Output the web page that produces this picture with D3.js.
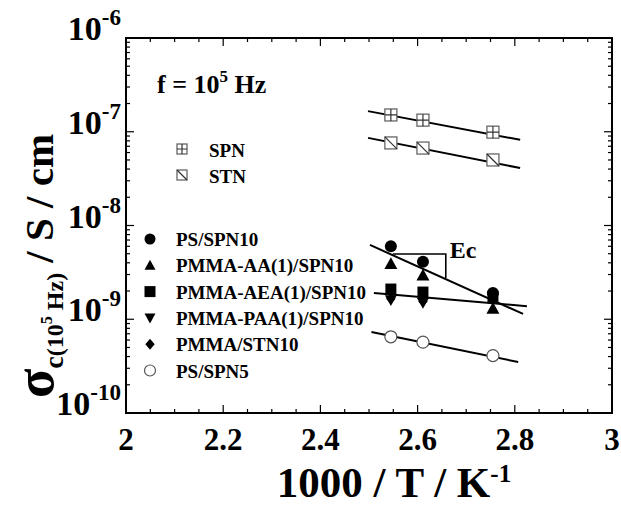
<!DOCTYPE html>
<html><head><meta charset="utf-8">
<script src="https://cdn.jsdelivr.net/npm/d3@7/dist/d3.min.js"></script>
<style>
body{margin:0;background:#fff;}
text{font-family:"Liberation Serif","Times New Roman",serif;font-weight:bold;fill:#000;}
</style></head><body>
<svg id="c" width="621" height="507"></svg>
<script>
// ---- data ----
const xT = [2.545, 2.611, 2.755];
const spn = [1.51e-7, 1.33e-7, 0.99e-7];
const stn = [7.6e-8, 6.7e-8, 5.0e-8];
const psSpn10 = [6.0e-9, 4.1e-9, 1.9e-9];
const pmmaAA = [3.9e-9, 2.95e-9, 1.3e-9];
const pmmaAEA = [2.1e-9, 1.95e-9, 1.75e-9];
const pmmaPAA = [1.6e-9, 1.5e-9, 1.65e-9];
const pmmaSTN = [1.65e-9, 1.55e-9, 1.6e-9];
const psSpn5 = [6.5e-10, 5.7e-10, 4.1e-10];
// fitted lines (endpoints)
const spnFitX = [2.498, 2.811], spnFitY = [1.66e-7, 8.2e-8];
const stnFitX = [2.498, 2.811], stnFitY = [8.6e-8, 4.1e-8];
const ecFitX = [2.502, 2.817], ecFitY = [6.2e-9, 1.14e-9];
const pmmaFitX = [2.510, 2.825], pmmaFitY = [1.9e-9, 1.38e-9];
const spn5FitX = [2.505, 2.807], spn5FitY = [7.3e-10, 3.5e-10];
const ecBracketX = [2.549, 2.658, 2.658], ecBracketY = [4.97e-9, 4.97e-9, 2.75e-9];
const xTicks = [2, 2.2, 2.4, 2.6, 2.8, 3];
const xTickLabels = ["2", "2.2", "2.4", "2.6", "2.8", "3"];
const yExps = [-6, -7, -8, -9, -10];
const legendTop = ["SPN", "STN"];
const legendBottom = ["PS/SPN10", "PMMA-AA(1)/SPN10", "PMMA-AEA(1)/SPN10", "PMMA-PAA(1)/SPN10", "PMMA/STN10", "PS/SPN5"];

// ---- layout ----
const L = 126, R = 612, T = 38, B = 413;
const svg = d3.select("#c");
const x = d3.scaleLinear().domain([2, 3]).range([L, R]);
const y = d3.scaleLog().domain([1e-10, 1e-6]).range([B, T]);

// ticks
const g = svg.append("g");
const minorX = d3.range(2, 3.0001, 0.05);
minorX.forEach(v => {
  const major = xTicks.some(t => Math.abs(t - v) < 1e-6);
  const len = major ? 8 : 4;
  g.append("line").attr("x1", x(v)).attr("x2", x(v)).attr("y1", B).attr("y2", B - len).attr("stroke", "#000").attr("stroke-width", 1.2);
  g.append("line").attr("x1", x(v)).attr("x2", x(v)).attr("y1", T).attr("y2", T + len).attr("stroke", "#000").attr("stroke-width", 1.2);
});
for (let e = -10; e < -6; e++) {
  for (let m = 1; m < 10; m++) {
    const v = m * Math.pow(10, e);
    const len = m === 1 ? 8 : 4;
    g.append("line").attr("x1", L).attr("x2", L + len).attr("y1", y(v)).attr("y2", y(v)).attr("stroke", "#000").attr("stroke-width", 1.2);
    g.append("line").attr("x1", R).attr("x2", R - len).attr("y1", y(v)).attr("y2", y(v)).attr("stroke", "#000").attr("stroke-width", 1.2);
  }
}
svg.append("rect").attr("x", L).attr("y", T).attr("width", R - L).attr("height", B - T)
  .attr("fill", "none").attr("stroke", "#000").attr("stroke-width", 2);

// tick labels
xTicks.forEach((v, i) => {
  svg.append("text").attr("x", x(v)).attr("y", 450).attr("text-anchor", "middle")
    .attr("font-size", 31).text(xTickLabels[i]);
});
yExps.forEach(e => {
  const t = svg.append("text").attr("x", 121).attr("y", y(Math.pow(10, e)) + 2).attr("text-anchor", "end").attr("font-size", 34);
  t.append("tspan").text("10");
  t.append("tspan").attr("font-size", 23).attr("dy", -15).text(String(e));
});

// axis titles
const xt = svg.append("text").attr("x", 394).attr("y", 497).attr("text-anchor", "middle").attr("font-size", 43);
xt.append("tspan").text("1000 / T / K");
xt.append("tspan").attr("font-size", 25).attr("dy", -15).text("-1");

const yt = svg.append("text").attr("transform", "translate(53,398) rotate(-90)").attr("font-size", 41);
yt.append("tspan").attr("font-size", 54).text("σ");
yt.append("tspan").attr("font-size", 28).attr("dy", 10).text("c");
yt.append("tspan").attr("font-size", 24).attr("dy", 0).text("(10");
yt.append("tspan").attr("font-size", 16).attr("dy", -11).text("5");
yt.append("tspan").attr("font-size", 24).attr("dy", 11).text(" Hz)");
yt.append("tspan").attr("dy", -10).text(" / S / cm");

// frequency annotation
const ft = svg.append("text").attr("x", 157).attr("y", 93).attr("font-size", 26);
ft.append("tspan").text("f = 10");
ft.append("tspan").attr("font-size", 17).attr("dy", -11).text("5");
ft.append("tspan").attr("dy", 11).text(" Hz");

// fit lines
const line = d3.line().x(d => x(d[0])).y(d => y(d[1]));
[[spnFitX, spnFitY], [stnFitX, stnFitY], [ecFitX, ecFitY], [pmmaFitX, pmmaFitY], [spn5FitX, spn5FitY]].forEach(([xs, ys]) => {
  svg.append("path").attr("d", line(xs.map((v, i) => [v, ys[i]]))).attr("fill", "none").attr("stroke", "#000").attr("stroke-width", 2);
});
svg.append("path").attr("d", line(ecBracketX.map((v, i) => [v, ecBracketY[i]]))).attr("fill", "none").attr("stroke", "#000").attr("stroke-width", 1.6);
svg.append("text").attr("x", x(ecBracketX[1]) + 4).attr("y", y(ecBracketY[0]) + 4).attr("font-size", 24).text("Ec");

// markers
function drawMarker(sel, kind, cx, cy, s) {
  const h = s / 2;
  if (kind === "crossSq" || kind === "diagSq") {
    sel.append("rect").attr("x", cx - h).attr("y", cy - h).attr("width", s).attr("height", s)
      .attr("fill", "#fff").attr("stroke", "#666").attr("stroke-width", 1.3);
    if (kind === "crossSq") {
      sel.append("path").attr("d", `M${cx - h},${cy}H${cx + h}M${cx},${cy - h}V${cy + h}`).attr("stroke", "#333").attr("stroke-width", 1.2);
    } else {
      sel.append("path").attr("d", `M${cx - h},${cy - h}L${cx + h},${cy + h}`).attr("stroke", "#333").attr("stroke-width", 1.2);
    }
  } else if (kind === "circle") {
    sel.append("circle").attr("cx", cx).attr("cy", cy).attr("r", h).attr("fill", "#000");
  } else if (kind === "ocircle") {
    sel.append("circle").attr("cx", cx).attr("cy", cy).attr("r", h).attr("fill", "#fff").attr("stroke", "#555").attr("stroke-width", 1.2);
  } else if (kind === "tri") {
    sel.append("path").attr("d", `M${cx},${cy - h}L${cx + h},${cy + h * 0.8}L${cx - h},${cy + h * 0.8}Z`).attr("fill", "#000");
  } else if (kind === "dtri") {
    sel.append("path").attr("d", `M${cx},${cy + h}L${cx + h},${cy - h * 0.8}L${cx - h},${cy - h * 0.8}Z`).attr("fill", "#000");
  } else if (kind === "square") {
    sel.append("rect").attr("x", cx - h).attr("y", cy - h).attr("width", s).attr("height", s).attr("fill", "#000");
  } else if (kind === "diamond") {
    sel.append("path").attr("d", `M${cx},${cy - h}L${cx + h * 0.85},${cy}L${cx},${cy + h}L${cx - h * 0.85},${cy}Z`).attr("fill", "#000");
  }
}
const series = [
  [spn, "crossSq", 12], [stn, "diagSq", 12],
  [pmmaPAA, "dtri", 12], [pmmaSTN, "diamond", 11], [pmmaAEA, "square", 11],
  [pmmaAA, "tri", 13], [psSpn10, "circle", 12], [psSpn5, "ocircle", 12]
];
const mg = svg.append("g");
series.forEach(([vals, kind, s]) => {
  vals.forEach((v, i) => drawMarker(mg, kind, x(xT[i]), y(v), s));
});

// legends
const topKinds = ["crossSq", "diagSq"];
legendTop.forEach((t, i) => {
  const yy = 157 + i * 26;
  drawMarker(svg, topKinds[i], 182, yy - 8, 10);
  svg.append("text").attr("x", 209).attr("y", yy).attr("font-size", 19).text(t);
});
const botKinds = ["circle", "tri", "square", "dtri", "diamond", "ocircle"];
legendBottom.forEach((t, i) => {
  const yy = 246 + i * 26.3;
  drawMarker(svg, botKinds[i], 150, yy - 7, 11);
  svg.append("text").attr("x", 176).attr("y", yy).attr("font-size", 19).text(t);
});
</script></body></html>
